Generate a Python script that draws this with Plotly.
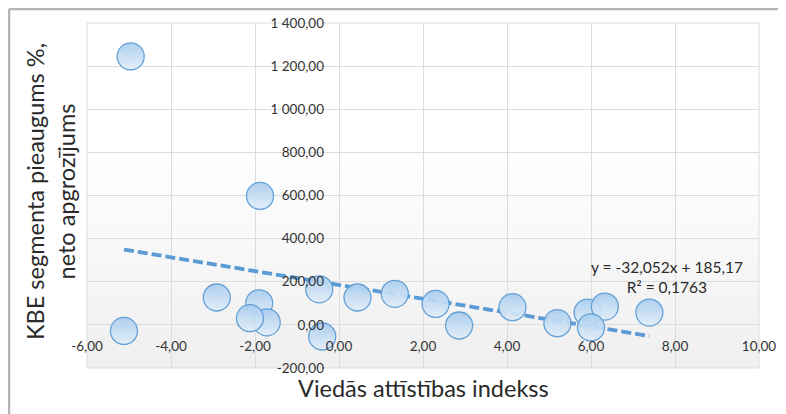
import base64
import plotly.graph_objects as go

# ---- data ----
x_index = [-4.96, -1.88, -5.12, -2.91, -1.90, -1.72, -2.12, -0.47, -0.40, 0.44,
           1.33, 2.30, 2.86, 4.13, 5.20, 5.92, 6.33, 6.00, 7.39]
y_growth = [1245, 598, -28, 127, 100, 12, 31, 165, -54, 127,
            144, 97, -3, 82, 8, 57, 85, -12, 57]

trend_slope = -32.052
trend_intercept = 185.17
trend_text = "y = -32,052x + 185,17<br>R² = 0,1763"

x_tick_vals = [-6, -4, -2, 0, 2, 4, 6, 8, 10]
x_tick_text = ["-6,00", "-4,00", "-2,00", "0,00", "2,00", "4,00", "6,00", "8,00", "10,00"]
y_tick_vals = [-200, 0, 200, 400, 600, 800, 1000, 1200, 1400]
y_tick_text = ["-200,00", "0,00", "200,00", "400,00", "600,00", "800,00",
               "1 000,00", "1 200,00", "1 400,00"]

x_title = "Viedās attīstības indekss"
y_title = "KBE segmenta pieaugums %,<br>neto apgrozījums"

X_RANGE = [-6, 10]
Y_RANGE = [-200, 1400]

FONT = "Lato, 'Open Sans', sans-serif"
BLUE = "#5b9bd5"
GRID = "#dcdcdc"

trend_x = [min(x_index), max(x_index)]
trend_y = [trend_slope * v + trend_intercept for v in trend_x]

fig = go.Figure()
fig.add_trace(go.Scatter(
    x=trend_x, y=trend_y, mode="lines",
    line=dict(color=BLUE, width=3.8, dash="10px,4px"),
    hoverinfo="skip", showlegend=False))
fig.add_trace(go.Scatter(
    x=x_index, y=y_growth, mode="markers",
    marker=dict(size=27, color="#a9cdef", opacity=0.93,
                gradient=dict(type="vertical", color="#e2eef9"),
                line=dict(color=BLUE, width=1.3)),
    showlegend=False))

# gradient background of the plot area
svg = ('<svg xmlns="http://www.w3.org/2000/svg" width="100" height="100" preserveAspectRatio="none">'
       '<defs><linearGradient id="g" x1="0" y1="0" x2="0" y2="1">'
       '<stop offset="0" stop-color="#ffffff"/><stop offset="0.35" stop-color="#ffffff"/>'
       '<stop offset="1" stop-color="#efefef"/></linearGradient></defs>'
       '<rect width="100" height="100" fill="url(#g)"/></svg>')
bg_src = "data:image/svg+xml;base64," + base64.b64encode(svg.encode()).decode()

x_cross = (0 - Y_RANGE[0]) / (Y_RANGE[1] - Y_RANGE[0])
y_cross = (0 - X_RANGE[0]) / (X_RANGE[1] - X_RANGE[0])

L, T, W, H = 79, 15, 672, 345

fig.update_layout(
    width=786, height=414,
    margin=dict(l=L, r=786 - L - W, t=T, b=414 - T - H, autoexpand=False),
    paper_bgcolor="white", plot_bgcolor="rgba(0,0,0,0)",
    font=dict(family=FONT, color="#333333", size=13),
    images=[dict(source=bg_src, xref="paper", yref="paper", x=0, y=1,
                 sizex=1, sizey=1, sizing="stretch", layer="below")],
    xaxis=dict(range=X_RANGE, tickvals=x_tick_vals, ticktext=x_tick_text,
               anchor="free", position=x_cross, showgrid=True, gridcolor=GRID,
               gridwidth=1, zeroline=False, showline=False, ticks="",
               automargin=False,
               ticklabelstandoff=12, tickfont=dict(size=13.5, family=FONT)),
    yaxis=dict(range=Y_RANGE, tickvals=y_tick_vals, ticktext=y_tick_text,
               anchor="free", position=y_cross, showgrid=True, gridcolor=GRID,
               gridwidth=1, zeroline=False, showline=False, ticks="",
               automargin=False,
               ticklabelstandoff=15, tickfont=dict(size=13.5, family=FONT)),
    shapes=[
        dict(type="rect", xref="paper", yref="paper", x0=0, y0=0, x1=1, y1=1,
             line=dict(color=GRID, width=1), layer="below"),
        dict(type="line", xref="paper", yref="paper", x0=(1 - L) / W, x1=1.2,
             y0=1 + (T - 1) / H, y1=1 + (T - 1) / H,
             line=dict(color="#b4b4b4", width=2.5)),
        dict(type="line", xref="paper", yref="paper", x0=(1 - L) / W, x1=(1 - L) / W,
             y0=1 + (T - 1) / H, y1=-0.3, line=dict(color="#b4b4b4", width=2.5)),
    ],
    annotations=[
        dict(text=trend_text, xref="paper", yref="paper",
             x=(667 - 87) / 672, y=(368 - 277) / 345, showarrow=False,
             align="center", xanchor="center", yanchor="middle",
             font=dict(size=15.5, family=FONT, color="#2a2a2a")),
        dict(text=x_title, xref="paper", yref="paper",
             x=0.5, y=(368 - 388) / 345, showarrow=False,
             xanchor="center", yanchor="middle",
             font=dict(size=23.5, family=FONT, color="#2a2a2a")),
        dict(text=y_title, xref="paper", yref="paper",
             x=(50 - 87) / 672, y=(368 - 192) / 345, showarrow=False,
             textangle=-90, xanchor="center", yanchor="middle",
             font=dict(size=23.5, family=FONT, color="#2a2a2a")),
    ],
)

fig.write_html("out.html")
